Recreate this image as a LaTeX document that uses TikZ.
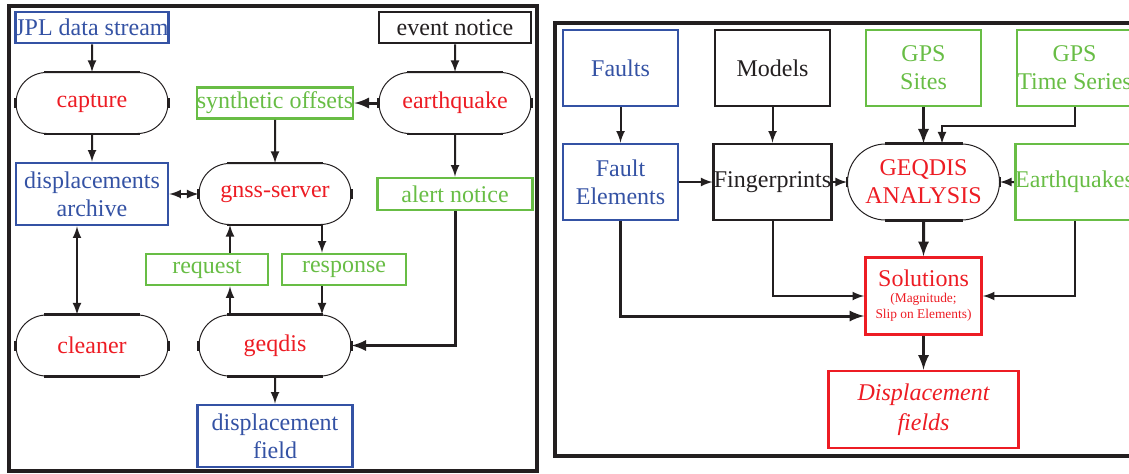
\documentclass[tikz,border=0pt]{standalone}
\usepackage{fontspec}
\setmainfont{Liberation Serif}
\usepackage{tikz}
\usetikzlibrary{shapes.misc}
\usetikzlibrary{positioning}
\usetikzlibrary{calc}

\definecolor{fblue}{RGB}{52,82,164}
\definecolor{fgreen}{RGB}{104,189,69}
\definecolor{fred}{RGB}{237,28,36}
\definecolor{fblack}{RGB}{35,31,32}

\tikzset{every picture/.style={line width=1pt,color=fblack,x=0.5pt,y=-0.5pt},
  box/.style={rectangle,draw,inner sep=0pt,line width=1.35pt,align=center,font=\fontsize{12}{14}\selectfont},
  bluebox/.style={box,draw=fblue,text=fblue},
  greenbox/.style={box,draw=fgreen,text=fgreen},
  blackbox/.style={box,draw=fblack,text=fblack},
  redbox/.style={box,draw=fred,text=fred},
  term/.style={rounded rectangle,draw=fblack,line width=0.5pt,inner sep=0pt,minimum width=76pt,minimum height=30.5pt,text=fred,align=center,font=\fontsize{12}{14}\selectfont},
  flow/.style={-latex},
  heavy/.style={-latex,line width=1.5pt},
  panel/.style={draw=fblack,line width=1.8pt}}

\begin{document}
\begin{tikzpicture}
\useasboundingbox (0,0) rectangle (1129,473);

% data flow of the services
\draw[panel] (9,6) rectangle (537,471);

\node (jpl) at (92,27.5) [bluebox,minimum width=76pt,minimum height=15.5pt] {JPL data stream};
\node (capture) [term,below of=jpl,node distance=37.75pt] {capture};
\node (archive) [bluebox,below of=capture,node distance=45.5pt,minimum width=76pt,minimum height=31pt] {displacements\\archive};
\node (cleaner) [term,below of=archive,node distance=75.75pt] {cleaner};

\node (notice) at (455,27.5) [blackbox,minimum width=76pt,minimum height=15.5pt] {event notice};
\node (quake) [term,below of=notice,node distance=37.75pt] {earthquake};
\node (alert) [greenbox,below of=quake,node distance=45.5pt,minimum width=77.5pt,minimum height=16pt] {alert notice};

\node (synth) at (275,103) [greenbox,minimum width=76.5pt,minimum height=15.5pt] {synthetic offsets};
\node (server) [term,below of=synth,node distance=45.5pt] {gnss-server};
\node (geqdis) [term,below of=server,node distance=75.75pt] {geqdis};
\node (field) [bluebox,below of=geqdis,node distance=45.25pt,minimum width=77.5pt,minimum height=31pt] {displacement\\field};
\node (request) at (207,269.5) [greenbox,minimum width=61pt,minimum height=15.5pt] {request};
\node (response) at (344,269.5) [greenbox,minimum width=62pt,minimum height=15.5pt] {response};

\coordinate (ac) at (77,0);
\coordinate (rq) at (230,0);
\coordinate (rs) at (322,0);

\draw[flow] (jpl) -- (capture);
\draw[flow] (notice) -- (quake);
\draw[heavy] (quake) -- (synth);
\draw[flow] (capture) -- (archive);
\draw[flow] (synth) -- (server);
\draw[latex-latex] (archive) -- (server);
\draw[latex-latex] (archive.south -| ac) -- (cleaner.north -| ac);
\draw[flow] (quake) -- (alert);
\draw[heavy] (alert) |- (geqdis);
\draw[flow] (server.south -| rs) -- (response.north -| rs);
\draw[flow] (response.south -| rs) -- (geqdis.north -| rs);
\draw[flow] (geqdis.north -| rq) -- (request.south -| rq);
\draw[flow] (request.north -| rq) -- (server.south -| rq);
\draw[flow] (geqdis) -- (field);

% analysis chain
\draw[panel] (555,23) rectangle (1140,456);

\node (faults) at (620.5,68) [bluebox,minimum width=57.5pt,minimum height=38pt] {Faults};
\node (elements) [bluebox,below of=faults,node distance=57pt,minimum width=57.5pt,minimum height=38pt] {Fault\\Elements};
\node (models) at (772.5,68) [blackbox,minimum width=57.5pt,minimum height=38pt] {Models};
\node (prints) [blackbox,below of=models,node distance=57pt,minimum width=57.5pt,minimum height=38pt] {Fingerprints};
\node (sites) at (923.5,68) [greenbox,minimum width=57.5pt,minimum height=38pt] {GPS\\Sites};
\node (analysis) [term,below of=sites,node distance=57pt,minimum height=38pt] {GEQDIS\\ANALYSIS};
\node (series) at (1074.5,68) [greenbox,minimum width=57.5pt,minimum height=38pt] {GPS\\Time Series};
\node (quakes) [greenbox,below of=series,node distance=57pt,minimum width=57.5pt,minimum height=38pt] {Earthquakes};
\node (solutions) [redbox,below of=analysis,node distance=57pt,minimum width=58pt,minimum height=38.5pt,font=\fontsize{6.7}{8}\selectfont] {{\fontsize{12}{14}\selectfont Solutions}\\(Magnitude;\\Slip on Elements)};
\node (fields) [redbox,below of=solutions,node distance=56.75pt,minimum width=95pt,minimum height=38.5pt,font=\fontsize{12}{15}\selectfont\itshape] {Displacement\\fields};

\coordinate (sj) at (942,126);

\draw[flow] (faults) -- (elements);
\draw[flow] (models) -- (prints);
\draw[heavy] (sites) -- (analysis);
\draw[flow] (series) |- (sj) -- (analysis.north -| sj);
\draw[flow] (elements) -- (prints);
\draw[flow] (prints) -- (analysis);
\draw[flow] (quakes) -- (analysis);
\draw[heavy] (analysis) -- (solutions);
\draw[flow] (prints) |- (solutions);
\draw[heavy] (elements) |- ([yshift=-10pt]solutions.west);
\draw[flow] (quakes) |- (solutions);
\draw[heavy] (solutions) -- (fields);

% heavy flats and side ticks on the terminals
\foreach \n/\s in {capture/24pt,quake/24pt,server/24pt,cleaner/24pt,geqdis/24pt,analysis/19.5pt}
{
  \draw[line width=1.35pt] ([xshift=-\s]\n.north) -- ([xshift=\s]\n.north);
  \draw[line width=1.35pt] ([xshift=-\s]\n.south) -- ([xshift=\s]\n.south);
  \draw[line width=1.35pt] ([yshift=-2.5pt]\n.west) -- ([yshift=2.5pt]\n.west);
  \draw[line width=1.35pt] ([yshift=-2.5pt]\n.east) -- ([yshift=2.5pt]\n.east);
}
\end{tikzpicture}
\end{document}
